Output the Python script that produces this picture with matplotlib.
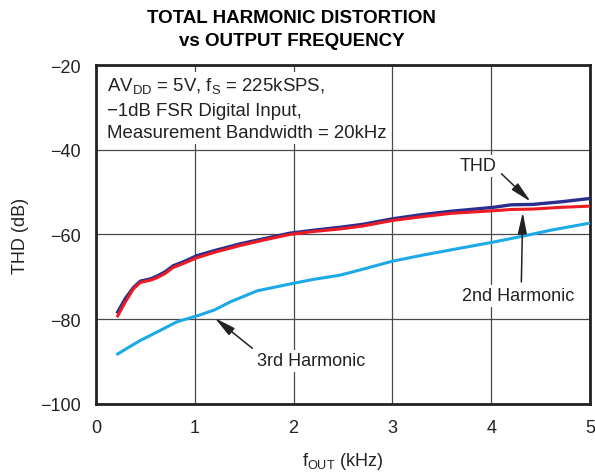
import matplotlib
matplotlib.use("Agg")
import matplotlib.pyplot as plt

plt.rcParams['font.family'] = ['Liberation Sans', 'DejaVu Sans']

# f_OUT (kHz)
freq_thd = [0.22, 0.30, 0.38, 0.45, 0.55, 0.62, 0.70, 0.78, 0.90, 1.02, 1.20, 1.46,
            1.70, 1.96, 2.20, 2.47, 2.70, 3.00, 3.30, 3.60, 4.02, 4.20, 4.42, 4.70, 5.00]
thd = [-78.3, -75.0, -72.5, -71.0, -70.5, -69.8, -68.8, -67.4, -66.3, -65.0, -63.8, -62.2,
       -61.0, -59.7, -59.0, -58.3, -57.6, -56.3, -55.3, -54.5, -53.6, -53.0, -52.9, -52.3, -51.5]
second = [-79.2, -75.8, -72.8, -71.3, -70.8, -70.2, -69.2, -67.8, -66.7, -65.5, -64.2, -62.6,
          -61.3, -60.0, -59.3, -58.7, -58.0, -56.7, -55.8, -55.0, -54.4, -54.1, -54.0, -53.6, -53.3]

freq_3rd = [0.22, 0.34, 0.45, 0.62, 0.82, 1.05, 1.20, 1.36, 1.63, 1.96, 2.20, 2.47,
            2.70, 3.00, 3.30, 3.60, 4.02, 4.32, 4.60, 5.00]
third = [-88.2, -86.5, -85.0, -83.0, -80.6, -79.0, -77.8, -75.9, -73.3, -71.7, -70.6, -69.6,
         -68.2, -66.3, -64.9, -63.6, -61.8, -60.4, -59.0, -57.3]

xticks = [0, 1, 2, 3, 4, 5]
yticks = [-100, -80, -60, -40, -20]

fig = plt.figure(figsize=(5.95, 4.77), dpi=100)
ax = fig.add_axes([0.1613, 0.151, 0.8303, 0.7106])

ax.plot(freq_3rd, third, color='#1ba9e8', lw=2.2, zorder=3)
ax.plot(freq_thd, thd, color='#2a2f8f', lw=2.4, zorder=3)
ax.plot(freq_thd, second, color='#ed1c24', lw=2.2, zorder=4)

ax.set_xlim(0, 5)
ax.set_ylim(-100, -20)
ax.set_xticks(xticks)
ax.set_yticks(yticks)
ax.set_yticklabels(['\u2212100', '\u221280', '\u221260', '\u221240', '\u221220'])
ax.tick_params(length=0, labelsize=13, pad=11, labelcolor='#222222')
ax.grid(True, color='#4a4a4a', lw=0.9)
ax.set_axisbelow(True)
for s in ax.spines.values():
    s.set_linewidth(2)
    s.set_color('#222222')

ax.set_xlabel('f$_{\\mathregular{OUT}}$ (kHz)', fontsize=13, labelpad=10, color='#222222')
ax.set_ylabel('THD (dB)', fontsize=13, labelpad=8, color='#222222')

fig.text(0.49, 0.962, 'TOTAL HARMONIC DISTORTION', ha='center', va='center',
         fontsize=13.5, fontweight='bold')
fig.text(0.49, 0.912, 'vs OUTPUT FREQUENCY', ha='center', va='center',
         fontsize=13.5, fontweight='bold')

box = dict(facecolor='white', edgecolor='none', pad=2)
ax.text(0.11, -22.6,
        'AV$_{\\mathregular{DD}}$ = 5V, f$_{\\mathregular{S}}$ = 225kSPS,\n'
        '\u22121dB FSR Digital Input,\nMeasurement Bandwidth = 20kHz',
        ha='left', va='top', fontsize=13.4, linespacing=1.4, bbox=box, zorder=5,
        color='#222222')

arrow = dict(arrowstyle='-|>,head_length=0.8,head_width=0.17', color='#222222',
             lw=1.1, mutation_scale=16)
ax.annotate('THD', xy=(4.42, -52.7), xytext=(3.87, -43.8), fontsize=13,
            ha='center', va='center', arrowprops=dict(arrow, relpos=(1.0, 0.3)),
            bbox=box, zorder=5, color='#222222')
ax.annotate('2nd Harmonic', xy=(4.32, -54.1), xytext=(4.27, -74.5), fontsize=13,
            ha='center', va='center', arrowprops=dict(arrow, relpos=(0.53, 1.0)),
            bbox=box, zorder=5, color='#222222')
ax.annotate('3rd Harmonic', xy=(1.18, -79.3), xytext=(2.18, -89.8), fontsize=13,
            ha='center', va='center', arrowprops=dict(arrow, relpos=(0.0, 1.0)),
            bbox=box, zorder=5, color='#222222')

fig.savefig('out.png', dpi=100)
